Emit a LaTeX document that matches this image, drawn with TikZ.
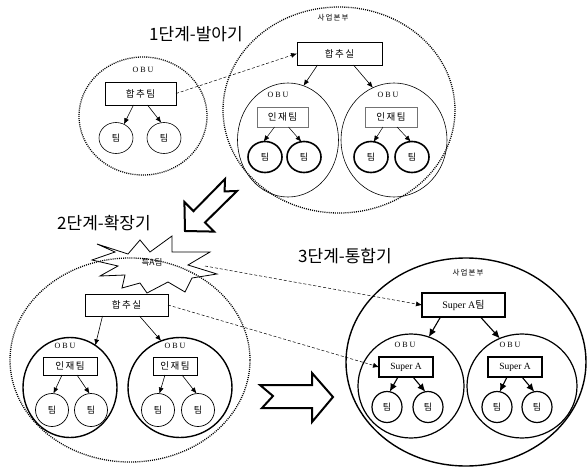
\documentclass[tikz,border=0pt]{standalone}
\usepackage{fontspec}
\setmainfont{Noto Sans CJK KR}
\newfontfamily\tnr{Liberation Serif}
\usetikzlibrary{shapes.geometric,arrows.meta}
\begin{document}
\begin{tikzpicture}[x=1pt,y=-1pt,
  every node/.style={inner sep=0pt,outer sep=0pt},
  ov/.style 2 args={ellipse,draw,minimum width=#1,minimum height=#2},
  dots/.style={line width=1.3pt,dash pattern=on 1pt off 1.1pt},
  box/.style 2 args={rectangle,draw,minimum width=#1,minimum height=#2},
  ttl/.style={font=\fontsize{17}{17}\selectfont},
  lbl/.style={font=\tnr\fontsize{8}{8}\selectfont\addfontfeature{LetterSpace=25}},
  hq/.style={font=\fontsize{7.5}{7.5}\selectfont\addfontfeature{LetterSpace=15}},
  kr/.style={font=\fontsize{9.5}{9.5}\selectfont\addfontfeature{LetterSpace=15}},
  tm/.style={font=\fontsize{9}{9}\selectfont},
  arr/.style={-{Latex[length=6pt,width=5pt]},line width=0.6pt},
  arrb/.style={-{Latex[length=8pt,width=7pt]},line width=1.1pt},
  dsh/.style={-{Latex[length=6pt,width=5pt]},line width=0.5pt,dash pattern=on 3pt off 2pt},
  bigarrow/.style={draw,fill=white,line width=2pt,line join=miter}
]
\useasboundingbox (0,0) rectangle (587,469);

% ---------- stage 1 ----------
\node[ttl] (t1) at (196,34) {1단계-발아기};

\node[ov={128pt}{118pt},dots] (obuA) at (143,116) {};
\node[lbl] (obuAl) at (143,70) {OBU};
\node[box={71pt}{23pt},line width=0.7pt,kr] (boxA) at (140.5,93.5) {합추팀};
\node[ov={34pt}{31pt},line width=0.6pt,tm] (cA1) at (116,138) {팀};
\node[ov={34pt}{31pt},line width=0.6pt,tm] (cA2) at (164,138) {팀};
\draw[arr] ([xshift=-7pt]boxA.south) -- (cA1.60);
\draw[arr] ([xshift=7pt]boxA.south) -- (cA2.100);

\node[ov={232pt}{206pt},dots] (hq1) at (339,110) {};
\node[hq] (hq1l) at (333,18) {사업본부};
\node[box={85pt}{23pt},line width=0.9pt,kr] (boxB) at (339.5,53.5) {합추실};
\node[ov={101pt}{114pt},line width=0.6pt] (obuB1) at (288,140) {};
\node[ov={106pt}{114pt},line width=0.6pt] (obuB2) at (394,140) {};
\node[lbl] (obuB1l) at (278,95) {OBU};
\node[lbl] (obuB2l) at (388,95) {OBU};
\node[box={51pt}{20pt},draw=black!55,line width=0.8pt,kr] (boxB1) at (282.5,117) {인재팀};
\node[box={52pt}{20pt},draw=black!55,line width=0.8pt,kr] (boxB2) at (391,117) {인재팀};
\node[ov={34pt}{31pt},line width=1.6pt,tm] (cB1) at (265,157) {팀};
\node[ov={34pt}{31pt},line width=1.6pt,tm] (cB2) at (304,157) {팀};
\node[ov={34pt}{31pt},line width=1.6pt,tm] (cB3) at (371,157) {팀};
\node[ov={34pt}{31pt},line width=1.6pt,tm] (cB4) at (412,157) {팀};
\draw[arr] ([xshift=-22pt]boxB.south) -- (obuB1.74);
\draw[arr] ([xshift=14pt]boxB.south) -- (obuB2.112);
\draw[arr,line width=0.5pt] ([xshift=-8pt]boxB1.south) -- (cB1.95);
\draw[arr,line width=0.5pt] ([xshift=6pt]boxB1.south) -- (cB2.100);
\draw[arr,line width=0.5pt] ([xshift=-8pt]boxB2.south) -- (cB3.80);
\draw[arr,line width=0.5pt] ([xshift=6pt]boxB2.south) -- (cB4.95);

\draw[dsh] (boxA.east) -- (boxB.west);

% hollow arrow from stage 1 to stage 2
\draw[bigarrow] (237,191) -- (205,222.5) -- (214,231.6) -- (185,231) -- (184.4,202)
  -- (193.5,211.1) -- (225,179) -- (224.6,191.4) -- cycle;

% ---------- stage 2 ----------
\node[ttl] (t2) at (104,223) {2단계-확장기};

\node[ov={240pt}{204pt},dots] (hq2) at (130,360) {};
\draw[line width=0.8pt,line join=miter]
  (97,244) -- (128,254) -- (140,240) -- (150,252) -- (172,236) -- (172,252)
  -- (210,252) -- (188,265) -- (217,274) -- (192,278) -- (185,292) -- (168,282)
  -- (147,293) -- (140,283) -- (122,288) -- (125,275) -- (100,276) -- (118,266)
  -- (92,260) -- (115,252) -- cycle;
\node[font=\fontsize{8.5}{8.5}\selectfont] (star) at (152,262) {특A팀};
\coordinate (starR) at (205,266);

\node[box={83pt}{22pt},line width=0.6pt,kr] (boxC) at (126.5,305) {합추실};
\node[ov={94pt}{100pt},line width=1.4pt] (obuC1) at (70,387.5) {};
\node[ov={104pt}{100pt},line width=1.4pt] (obuC2) at (180,387.5) {};
\node[lbl] (obuC1l) at (65,346) {OBU};
\node[lbl] (obuC2l) at (175,346) {OBU};
\node[box={54pt}{18pt},line width=0.9pt,kr] (boxC1) at (70,366) {인재팀};
\node[box={44pt}{18pt},line width=0.9pt,kr] (boxC2) at (175,366) {인재팀};
\node[ov={33pt}{33pt},line width=0.7pt,tm] (cC1) at (52,410) {팀};
\node[ov={33pt}{33pt},line width=0.7pt,tm] (cC2) at (91,410) {팀};
\node[ov={33pt}{33pt},line width=0.7pt,tm] (cC3) at (158,410) {팀};
\node[ov={33pt}{33pt},line width=0.7pt,tm] (cC4) at (198,410) {팀};
\draw[arr] ([xshift=-24pt]boxC.south) -- (obuC1.59);
\draw[arr] ([xshift=13pt]boxC.south) -- (obuC2.112);
\draw[arr] ([xshift=-8pt]boxC1.south) -- (cC1.85);
\draw[arr] ([xshift=7pt]boxC1.south) -- (cC2.95);
\draw[arr] ([xshift=-10pt]boxC2.south) -- (cC3.85);
\draw[arr] ([xshift=7pt]boxC2.south) -- (cC4.95);

% hollow arrow from stage 2 to stage 3
\draw[bigarrow] (260,385) -- (312,385) -- (312,373) -- (333,397) -- (312,422)
  -- (312,408) -- (262,408) -- (273,396) -- cycle;

% ---------- stage 3 ----------
\node[ttl] (t3) at (345,256) {3단계-통합기};

\node[ov={240pt}{208pt},line width=1.4pt] (hq3) at (466,362) {};
\node[hq] (hq3l) at (468,273) {사업본부};
\node[box={83pt}{24pt},line width=1.6pt,font=\fontsize{10}{10}\selectfont] (boxD) at (463.5,305) {{\tnr Super A}팀};
\node[ov={106pt}{104pt},line width=1.2pt] (obuD1) at (411,386) {};
\node[ov={110pt}{104pt},line width=1.2pt] (obuD2) at (522,386) {};
\node[lbl] (obuD1l) at (405,345) {OBU};
\node[lbl] (obuD2l) at (510,345) {OBU};
\node[box={54pt}{20pt},line width=1.4pt,font=\tnr\fontsize{9.5}{9.5}\selectfont] (boxD1) at (406,367) {Super A};
\node[box={54pt}{20pt},line width=1.4pt,font=\tnr\fontsize{9.5}{9.5}\selectfont] (boxD2) at (515,367) {Super A};
\node[ov={30pt}{31pt},line width=1.2pt,tm] (cD1) at (387,407) {팀};
\node[ov={30pt}{31pt},line width=1.2pt,tm] (cD2) at (428,407) {팀};
\node[ov={30pt}{31pt},line width=1.2pt,tm] (cD3) at (497,407) {팀};
\node[ov={30pt}{31pt},line width=1.2pt,tm] (cD4) at (537,407) {팀};
\draw[arrb] ([xshift=-23pt]boxD.south) -- (obuD1.70);
\draw[arrb] ([xshift=17pt]boxD.south) -- (obuD2.115);
\draw[arrb] ([xshift=-8pt]boxD1.south) -- (cD1.80);
\draw[arrb] ([xshift=7pt]boxD1.south) -- (cD2.100);
\draw[arrb] ([xshift=-8pt]boxD2.south) -- (cD3.80);
\draw[arrb] ([xshift=7pt]boxD2.south) -- (cD4.100);

% dashed links between stages
\draw[dsh] (starR) -- (boxD.west);
\draw[dsh] (boxC.east) -- (boxD1.west);
\end{tikzpicture}
\end{document}
